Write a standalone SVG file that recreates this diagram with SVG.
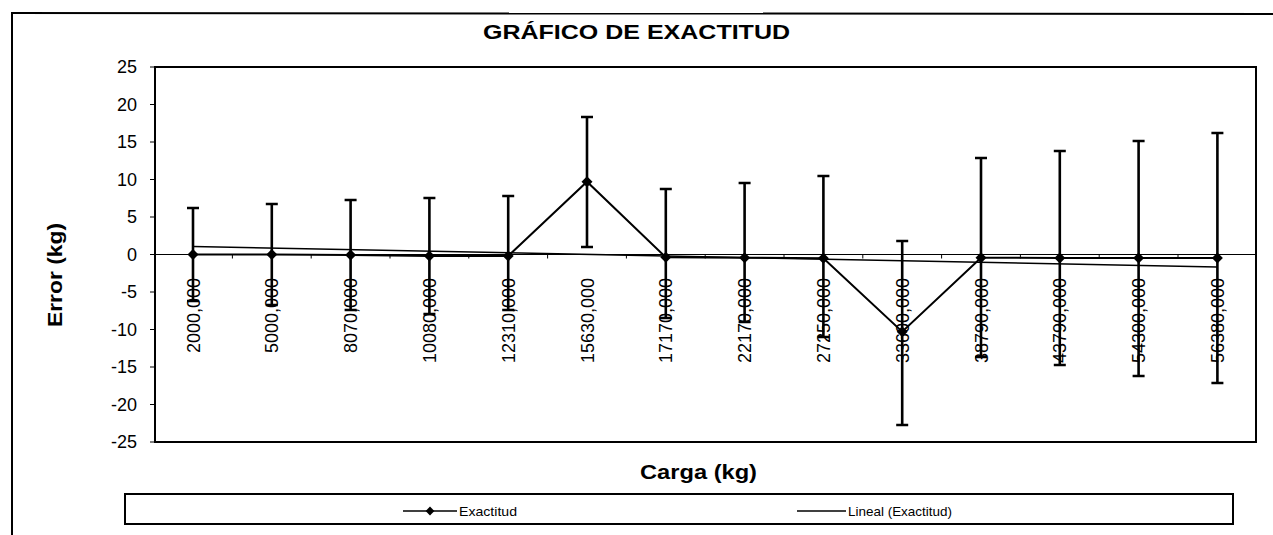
<svg xmlns="http://www.w3.org/2000/svg" width="1273" height="535" viewBox="0 0 1273 535">
<style>
text{font-family:"Liberation Sans",Arial,sans-serif;fill:#000}
.ttl{font-weight:bold;font-size:21px}
.ax{font-weight:bold;font-size:20px}
.yl{font-size:18px;text-anchor:end}
.xl{font-size:18px;text-anchor:end}
.lg{font-size:13px}
.eb{stroke:#000;stroke-width:2.6;fill:none}
.tk{stroke:#000;stroke-width:1;fill:none}
</style>
<defs>
<path id="dm" d="M0,-5.5 L5.5,0 L0,5.5 L-5.5,0 Z" fill="#000"/>
</defs>
<rect width="1273" height="535" fill="#fff"/>
<g id="frame">
<line x1="12" y1="12" x2="12" y2="535" stroke="#000" stroke-width="2"/>
<line x1="11" y1="13" x2="1273" y2="14" stroke="#000" stroke-width="2"/>
</g>
<g id="title"><text class="ttl" x="483" y="39" textLength="307" lengthAdjust="spacingAndGlyphs">GRÁFICO DE EXACTITUD</text></g>
<g id="plot-area">
<rect x="155" y="67" width="1101" height="375" fill="none" stroke="#000" stroke-width="2"/>
</g>
<g id="y-axis">
<path class="tk" d="M150,67H155M150,104.5H155M150,142H155M150,179.5H155M150,217H155M150,254.5H155M150,292H155M150,329.5H155M150,367H155M150,404.5H155M150,442H155"/>
<text class="yl" x="137" y="73">25</text>
<text class="yl" x="137" y="110.5">20</text>
<text class="yl" x="137" y="148">15</text>
<text class="yl" x="137" y="185.5">10</text>
<text class="yl" x="137" y="223">5</text>
<text class="yl" x="137" y="260.5">0</text>
<text class="yl" x="137" y="298">-5</text>
<text class="yl" x="137" y="335.5">-10</text>
<text class="yl" x="137" y="373">-15</text>
<text class="yl" x="137" y="410.5">-20</text>
<text class="yl" x="137" y="448">-25</text>
<text class="ax" transform="translate(62,275) rotate(-90)" text-anchor="middle" textLength="104" lengthAdjust="spacingAndGlyphs">Error (kg)</text>
</g>
<g id="x-axis">
<line x1="155" y1="254.5" x2="1256" y2="254.5" stroke="#000" stroke-width="1.2"/>
<path class="tk" d="M232.4,254.5v4M311.2,254.5v4M390,254.5v4M468.8,254.5v4M547.6,254.5v4M626.4,254.5v4M705.2,254.5v4M784,254.5v4M862.8,254.5v4M941.6,254.5v4M1020.4,254.5v4M1099.2,254.5v4M1178,254.5v4"/>
<text class="ax" x="640" y="479" textLength="117" lengthAdjust="spacingAndGlyphs">Carga (kg)</text>
</g>
<g id="connectors">
<line id="trend" x1="193" y1="246.5" x2="1217" y2="267" stroke="#000" stroke-width="1.5"/>
<polyline id="series" points="193,254.5 271.8,254.5 350.6,255 429.4,256 508.2,256 587,181.7 665.8,257.3 744.6,257.7 823.4,258.3 902.2,331.7 981,257.7 1059.8,258 1138.6,258 1217.4,258" fill="none" stroke="#000" stroke-width="2"/>
<path class="eb" d="M193,208V301M187,208H199M187,301H199
M271.8,204V305M265.8,204H277.8M265.8,305H277.8
M350.6,200V310M344.6,200H356.6M344.6,310H356.6
M429.4,198V314M423.4,198H435.4M423.4,314H435.4
M508.2,196V310M502.2,196H514.2M502.2,310H514.2
M587,117V247M581,117H593M581,247H593
M665.8,189V318M659.8,189H671.8M659.8,318H671.8
M744.6,183V322M738.6,183H750.6M738.6,322H750.6
M823.4,176V337M817.4,176H829.4M817.4,337H829.4
M902.2,241V425M896.2,241H908.2M896.2,425H908.2
M981,158V357M975,158H987M975,357H987
M1059.8,151V365M1053.8,151H1065.8M1053.8,365H1065.8
M1138.6,141V376M1132.6,141H1144.6M1132.6,376H1144.6
M1217.4,133V383M1211.4,133H1223.4M1211.4,383H1223.4"/>
</g>
<g id="markers">
<use href="#dm" x="193" y="254.5"/><use href="#dm" x="271.8" y="254.5"/><use href="#dm" x="350.6" y="255"/><use href="#dm" x="429.4" y="256"/><use href="#dm" x="508.2" y="256"/><use href="#dm" x="587" y="181.7"/><use href="#dm" x="665.8" y="257.3"/><use href="#dm" x="744.6" y="257.7"/><use href="#dm" x="823.4" y="258.3"/><use href="#dm" x="902.2" y="331.7"/><use href="#dm" x="981" y="257.7"/><use href="#dm" x="1059.8" y="258"/><use href="#dm" x="1138.6" y="258"/><use href="#dm" x="1217.4" y="258"/>
</g>
<g id="x-labels">
<text class="xl" transform="translate(199.5,278) rotate(-90)">2000,000</text>
<text class="xl" transform="translate(278.3,278) rotate(-90)">5000,000</text>
<text class="xl" transform="translate(357.1,278) rotate(-90)">8070,000</text>
<text class="xl" transform="translate(435.9,278) rotate(-90)">10080,000</text>
<text class="xl" transform="translate(514.7,278) rotate(-90)">12310,000</text>
<text class="xl" transform="translate(593.5,278) rotate(-90)">15630,000</text>
<text class="xl" transform="translate(672.3,278) rotate(-90)">17170,000</text>
<text class="xl" transform="translate(751.1,278) rotate(-90)">22170,000</text>
<text class="xl" transform="translate(829.9,278) rotate(-90)">27250,000</text>
<text class="xl" transform="translate(908.7,278) rotate(-90)">33600,000</text>
<text class="xl" transform="translate(987.5,278) rotate(-90)">38790,000</text>
<text class="xl" transform="translate(1066.3,278) rotate(-90)">43790,000</text>
<text class="xl" transform="translate(1145.1,278) rotate(-90)">54300,000</text>
<text class="xl" transform="translate(1223.9,278) rotate(-90)">56380,000</text>
</g>
<g id="legend">
<rect x="125" y="494" width="1108" height="30" fill="none" stroke="#000" stroke-width="2"/>
<line x1="403" y1="511" x2="457" y2="511" stroke="#000" stroke-width="1.5"/>
<use href="#dm" x="430" y="511" transform="translate(430,511) scale(0.8) translate(-430,-511)"/>
<text class="lg" x="459" y="516" textLength="58" lengthAdjust="spacingAndGlyphs">Exactitud</text>
<line x1="797" y1="511" x2="846" y2="511" stroke="#000" stroke-width="1.5"/>
<text class="lg" x="848" y="516" textLength="104" lengthAdjust="spacingAndGlyphs">Lineal (Exactitud)</text>
</g>
</svg>
